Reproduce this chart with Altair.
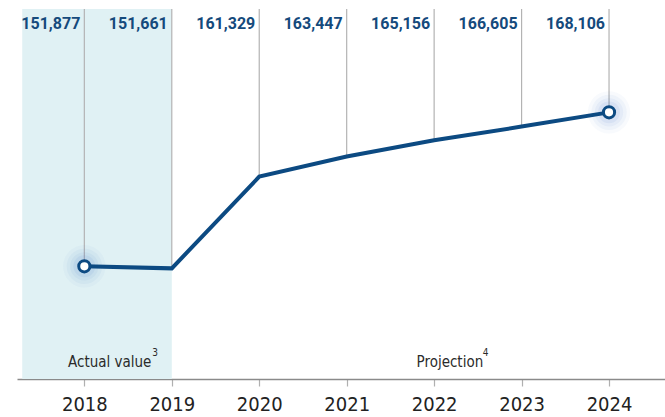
import altair as alt
import pandas as pd

years = [2018, 2019, 2020, 2021, 2022, 2023, 2024]
values = [151877, 151661, 161329, 163447, 165156, 166605, 168106]
labels = ["151,877", "151,661", "161,329", "163,447", "165,156", "166,605", "168,106"]
end_years = [2018, 2024]
end_values = [151877, 168106]
shade_start, shade_end = 2017.29, 2019
x_domain = [2017.23, 2024.64]
y_domain = [140000, 179000]
notes = ["Actual value", "Projection"]
note_years = [2018.29, 2022.18]
note_sups = ["3", "4"]
note_sup_years = [2018.81, 2022.59]

BLUE = "#0c4a82"
NARROW = "Liberation Sans Narrow, DejaVu Sans Condensed, Roboto, sans-serif"

df = pd.DataFrame({"year": years, "value": values, "label": labels, "top": y_domain[1]})
ends = pd.DataFrame({"year": end_years, "value": end_values})
shade = pd.DataFrame({"x": [shade_start], "x2": [shade_end], "y": [y_domain[0]], "y2": [y_domain[1]]})
notes_df = pd.DataFrame({"year": note_years, "text": notes, "v": y_domain[0]})
sups_df = pd.DataFrame({"year": note_sup_years, "text": note_sups, "v": y_domain[0]})

xs = alt.Scale(domain=x_domain, nice=False, zero=False)
ys = alt.Scale(domain=y_domain, nice=False, zero=False)

x_axis = alt.Axis(values=years, format="d", title=None, grid=False,
                  domainColor="#8a8a8a", domainWidth=1.5, tickColor="#b0b0b0",
                  tickSize=7, tickWidth=1.2, labelFontSize=20, labelFont=NARROW,
                  labelColor="#222222", labelPadding=8, labelFlush=False)

base = alt.Chart(df)

shade_layer = alt.Chart(shade).mark_rect(color="#e0f1f4").encode(
    x=alt.X("x:Q", scale=xs, axis=x_axis), x2="x2:Q",
    y=alt.Y("y:Q", scale=ys, axis=None), y2="y2:Q")

rules = base.mark_rule(color="#b3b3b3", strokeWidth=1.2).encode(
    x=alt.X("year:Q", scale=xs), y=alt.Y("value:Q", scale=ys), y2="top:Q")

line = base.mark_line(color=BLUE, strokeWidth=4, strokeJoin="miter").encode(
    x=alt.X("year:Q", scale=xs), y=alt.Y("value:Q", scale=ys))

glows = []
for size, op in [(1800, 0.035), (1250, 0.05), (800, 0.06), (480, 0.08)]:
    glows.append(alt.Chart(ends).mark_circle(color="#3f78c8", opacity=op, size=size).encode(
        x=alt.X("year:Q", scale=xs), y=alt.Y("value:Q", scale=ys)))

points = alt.Chart(ends).mark_point(filled=True, fill="white", stroke=BLUE,
                                    strokeWidth=3, size=125, opacity=1).encode(
    x=alt.X("year:Q", scale=xs), y=alt.Y("value:Q", scale=ys))

top_labels = base.mark_text(align="right", baseline="middle", dx=-4, fontSize=16,
                            fontWeight="bold", font="Roboto", color="#154a7c").encode(
    x=alt.X("year:Q", scale=xs), y=alt.value(15), text="label:N")

note_text = alt.Chart(notes_df).mark_text(align="center", baseline="middle", fontSize=15,
                                          font=NARROW, color="#2b2b2b").encode(
    x=alt.X("year:Q", scale=xs), y=alt.value(353), text="text:N")

sup_text = alt.Chart(sups_df).mark_text(align="center", baseline="middle", fontSize=10,
                                        font=NARROW, color="#2b2b2b").encode(
    x=alt.X("year:Q", scale=xs), y=alt.value(344), text="text:N")

chart = alt.layer(shade_layer, rules, *glows, line, points, top_labels, note_text, sup_text).properties(
    width=648, height=370,
    autosize=alt.AutoSizeParams(type="none"),
    padding={"left": 17, "top": 9, "right": 0, "bottom": 38},
).configure_view(stroke=None)

chart.save("out.html", embed_options={"renderer": "svg", "actions": False})
